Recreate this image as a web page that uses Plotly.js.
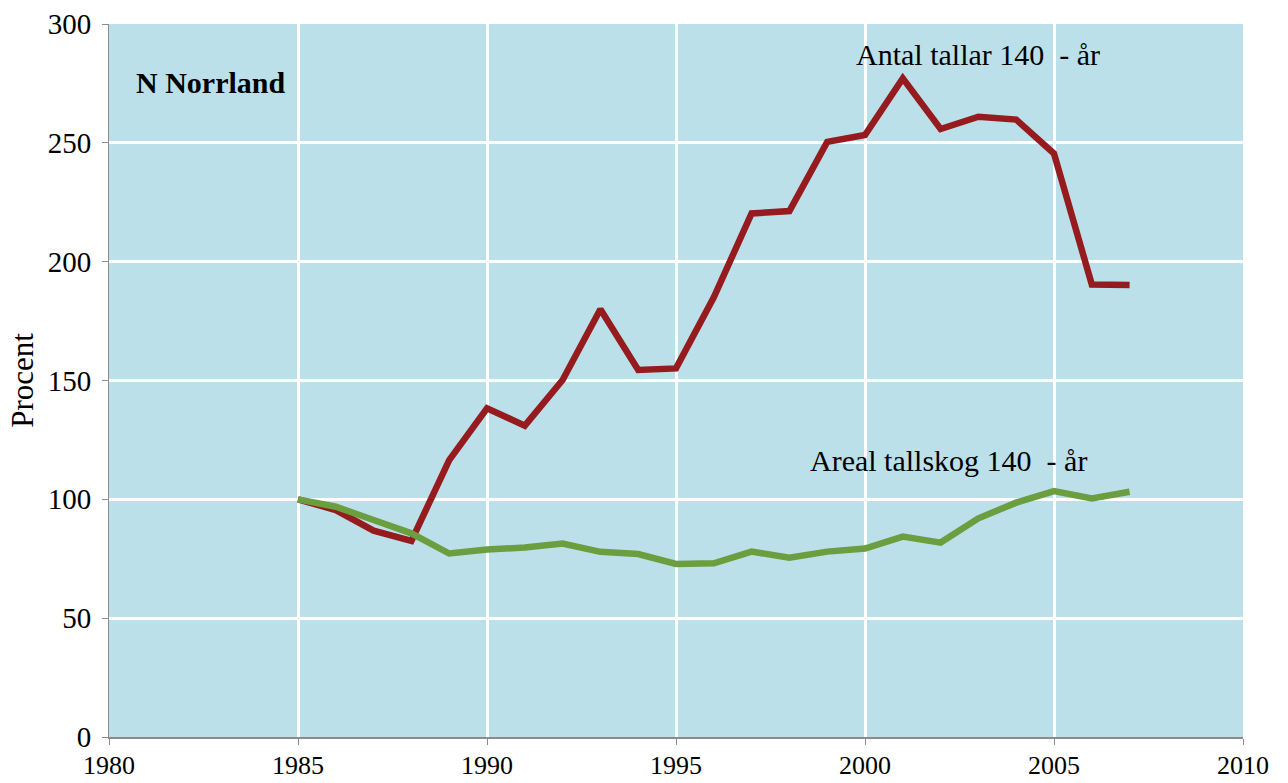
<!DOCTYPE html>
<html>
<head>
<meta charset="utf-8">
<script src="https://cdn.plot.ly/plotly-3.0.1.min.js"></script>
<style>html,body{margin:0;padding:0;background:#fff;}#chart{width:1288px;height:783px;}</style>
</head>
<body>
<div id="chart"></div>
<script>
const years = [1985,1986,1987,1988,1989,1990,1991,1992,1993,1994,1995,1996,1997,1998,1999,2000,2001,2002,2003,2004,2005,2006,2007];
const antalTallar = [100,95.5,86.8,82.5,116.5,138.3,131,150.2,180,154.4,155.1,185,220.3,221.3,250.4,253.3,277.1,255.8,261,259.8,245.5,190.4,190.2];
const arealTallskog = [100,96.9,91.3,85.7,77.2,78.9,79.7,81.4,77.9,77.0,72.8,73.1,78,75.4,78,79.3,84.3,81.8,92,98.6,103.5,100.4,103.2];
const xTicks = [1980,1985,1990,1995,2000,2005,2010];
const yTicks = [0,50,100,150,200,250,300];
const labelAntal = "Antal tallar 140  - år";
const labelAreal = "Areal tallskog 140  - år";
const regionLabel = "N Norrland";
const yTitle = "Procent";

const font = "Liberation Serif, Times New Roman, serif";
const traces = [
  {x: years, y: antalTallar, type: 'scatter', mode: 'lines', line: {color: '#951B1E', width: 6.5}, hoverinfo: 'skip'},
  {x: years, y: arealTallskog, type: 'scatter', mode: 'lines', line: {color: '#6A9E3F', width: 6.5}, hoverinfo: 'skip'}
];
const layout = {
  width: 1288, height: 783,
  margin: {l: 109, r: 45, t: 24, b: 46},
  paper_bgcolor: '#ffffff',
  plot_bgcolor: '#BCE0EA',
  showlegend: false,
  font: {family: font, size: 29, color: '#000'},
  xaxis: {
    range: [1980, 2010], tickvals: xTicks, ticktext: xTicks.map(String),
    showgrid: true, gridcolor: '#ffffff', gridwidth: 3,
    zeroline: false, showline: true, linecolor: '#8c8c8c', linewidth: 2,
    ticks: 'outside', ticklen: 6, tickcolor: '#8c8c8c', tickwidth: 1,
    ticklabelstandoff: -2,
    tickfont: {family: font, size: 26}
  },
  yaxis: {
    range: [0, 300], tickvals: yTicks, ticktext: yTicks.map(String),
    showgrid: true, gridcolor: '#ffffff', gridwidth: 3,
    zeroline: false, showline: true, linecolor: '#8c8c8c', linewidth: 1,
    ticks: 'outside', ticklen: 6, tickcolor: '#8c8c8c', tickwidth: 1,
    ticklabelstandoff: 5,
    tickfont: {family: font, size: 29},
    title: {text: yTitle, font: {family: font, size: 31}, standoff: 4}
  },
  annotations: [
    {x: 2003.0, y: 287, xref: 'x', yref: 'y', text: labelAntal, showarrow: false, xanchor: 'center', yanchor: 'middle', font: {family: font, size: 30}},
    {x: 2002.2, y: 116.5, xref: 'x', yref: 'y', text: labelAreal, showarrow: false, xanchor: 'center', yanchor: 'middle', font: {family: font, size: 30}},
    {x: 1980.66, y: 275.5, xref: 'x', yref: 'y', text: '<b>' + regionLabel + '</b>', showarrow: false, xanchor: 'left', yanchor: 'middle', font: {family: font, size: 30}}
  ]
};
Plotly.newPlot('chart', traces, layout, {displayModeBar: false, staticPlot: true});
</script>
</body>
</html>
